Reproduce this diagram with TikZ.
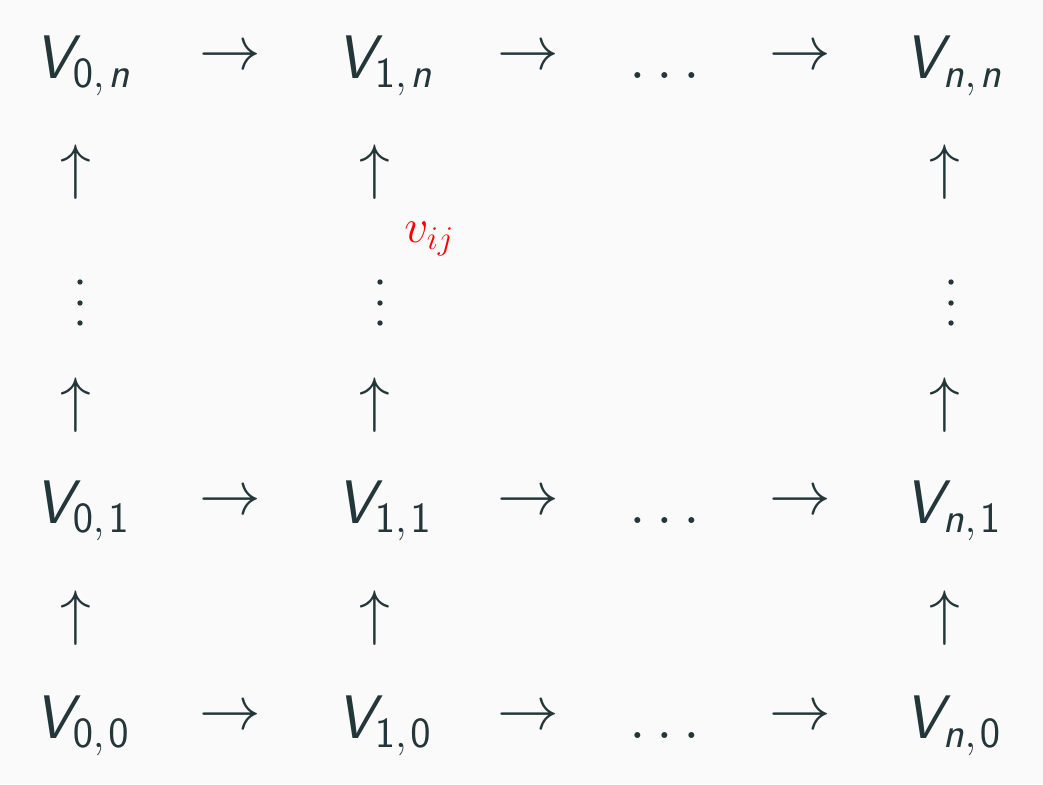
\RequirePackage{fix-cm}
\documentclass[tikz,border=0pt]{standalone}
\usepackage{amsmath}
\usetikzlibrary{positioning}
\definecolor{ink}{HTML}{23373B}
\definecolor{paper}{HTML}{FAFAFA}
\DeclareMathAlphabet{\mathsfit}{OT1}{cmss}{m}{sl}
\newcommand{\Vsp}[2]{$\mathsfit{V}_{#1,\mkern1.5mu#2}$}

\begin{document}
\begin{tikzpicture}[
    x=0.02cm,y=-0.02cm,
    entry/.style={inner sep=0pt,text=ink,font=\fontsize{35}{42}\selectfont,anchor=base west},
    glyph/.style={inner sep=0pt,text=ink,font=\fontsize{35}{42}\selectfont},
    dotsrow/.style={inner sep=0pt,text=ink,font=\fontsize{35}{42}\selectfont,anchor=base},
    vdot/.style={fill=ink}
]
\fill[paper] (0,0) rectangle (1043,784);

% top row
\node[entry] (v0n) at (34,78) {\Vsp{\mathsf{0}}{\mathsfit{n}}};
\node[glyph] (h0n) at (230,58) {$\rightarrow$};
\node[entry] (v1n) at (336,78) {\Vsp{\mathsf{1}}{\mathsfit{n}}};
\node[glyph] (h1n) at (528,58) {$\rightarrow$};
\node[dotsrow] (dn) at (665,78) {$\ldots$};
\node[glyph] (h2n) at (800,58) {$\rightarrow$};
\node[entry] (vnn) at (904,78) {\Vsp{\mathsfit{n}}{\mathsfit{n}}};

% vertical stretch
\node[glyph] (u0a) at (76,172) {$\uparrow$};
\node[glyph] (u1a) at (375,172) {$\uparrow$};
\node[glyph] (u2a) at (945,172) {$\uparrow$};
\foreach \cx in {80,380,951}
  \foreach \cy in {282,303,323}
    \fill[vdot] (\cx,\cy) circle (2.7);
\node[glyph] (u0b) at (76,405) {$\uparrow$};
\node[glyph] (u1b) at (375,405) {$\uparrow$};
\node[glyph] (u2b) at (945,405) {$\uparrow$};
\node[inner sep=0pt,text=red,font=\fontsize{27}{32}\selectfont,anchor=base west] (vij) at (404,242) {$v_{ij}$};

% row 1
\node[entry] (v01) at (34,523) {\Vsp{\mathsf{0}}{\mathsf{1}}};
\node[glyph] (h01) at (230,503) {$\rightarrow$};
\node[entry] (v11) at (336,523) {\Vsp{\mathsf{1}}{\mathsf{1}}};
\node[glyph] (h11) at (528,503) {$\rightarrow$};
\node[dotsrow] (d1) at (665,523) {$\ldots$};
\node[glyph] (h21) at (800,503) {$\rightarrow$};
\node[entry] (vn1) at (904,523) {\Vsp{\mathsfit{n}}{\mathsf{1}}};

\node[glyph] (u0c) at (76,618) {$\uparrow$};
\node[glyph] (u1c) at (375,618) {$\uparrow$};
\node[glyph] (u2c) at (945,618) {$\uparrow$};

% row 0
\node[entry] (v00) at (34,738) {\Vsp{\mathsf{0}}{\mathsf{0}}};
\node[glyph] (h00) at (230,718) {$\rightarrow$};
\node[entry] (v10) at (336,738) {\Vsp{\mathsf{1}}{\mathsf{0}}};
\node[glyph] (h10) at (528,718) {$\rightarrow$};
\node[dotsrow] (d0) at (665,738) {$\ldots$};
\node[glyph] (h20) at (800,718) {$\rightarrow$};
\node[entry] (vn0) at (904,738) {\Vsp{\mathsfit{n}}{\mathsf{0}}};
\end{tikzpicture}
\end{document}
